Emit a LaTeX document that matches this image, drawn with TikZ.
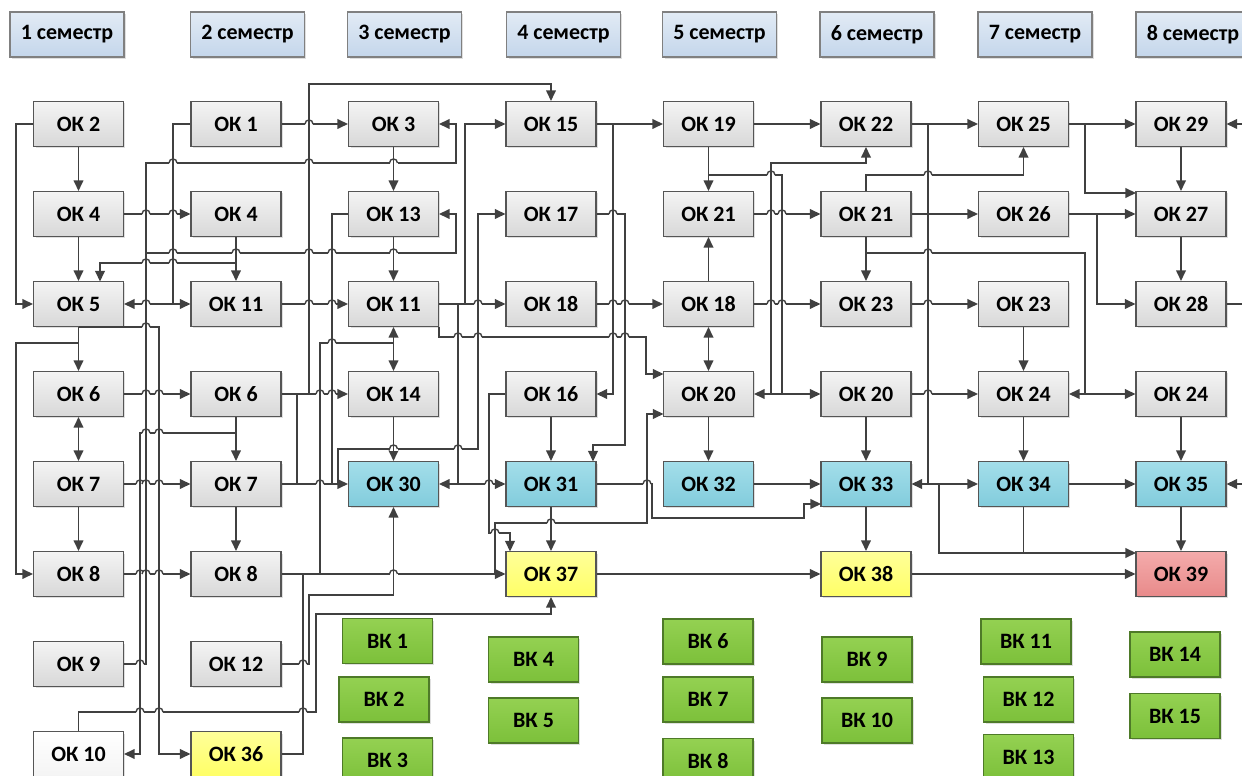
\documentclass[tikz,border=0pt]{standalone}
\usepackage{fontspec}
\setmainfont{Carlito}
\usetikzlibrary{arrows.meta,shadows}

\definecolor{lc}{HTML}{404040}
\definecolor{bc}{HTML}{555555}
\definecolor{gtop}{HTML}{F4F4F4}
\definecolor{gbot}{HTML}{D8D8D8}
\definecolor{ctop}{HTML}{A3DEEA}
\definecolor{cbot}{HTML}{82CCDC}
\definecolor{ytop}{HTML}{FFFF99}
\definecolor{ybot}{HTML}{FFFF66}
\definecolor{rtop}{HTML}{F4ABAB}
\definecolor{rbot}{HTML}{E88A8A}
\definecolor{etop}{HTML}{94D152}
\definecolor{ebot}{HTML}{7CC03A}
\definecolor{eb}{HTML}{4E7A28}
\definecolor{htop}{HTML}{E2EBF5}
\definecolor{hbot}{HTML}{C4D6EB}

\tikzset{
  line/.style={draw=lc, line width=0.8pt},
  arr/.style={line, -{Triangle[length=6pt,width=5.5pt]}},
  darr/.style={line, {Triangle[length=6pt,width=5.5pt]}-{Triangle[length=6pt,width=5.5pt]}},
  box/.style={draw=bc, line width=0.6pt, minimum width=1.8cm, minimum height=0.9cm, inner sep=0pt,
    font=\fontsize{12.5}{14}\selectfont\bfseries,
    drop shadow={shadow xshift=0.04cm, shadow yshift=-0.04cm, opacity=0.25}},
  okbox/.style={box, top color=gtop, bottom color=gbot},
  wbox/.style={box, top color=white, bottom color=gtop},
  cbox/.style={box, top color=ctop, bottom color=cbot},
  ybox/.style={box, top color=ytop, bottom color=ybot},
  rbox/.style={box, top color=rtop, bottom color=rbot},
  vkbox/.style={box, draw=eb, top color=etop, bottom color=ebot},
  hbox/.style={box, minimum width=2.28cm, draw=gray, top color=htop, bottom color=hbot}
}

% line hop over a vertical connector
\newcommand{\linehop}[2]{%
  \fill[white] ({#1-4},{#2-2}) rectangle ({#1+4},{#2+2});
  \draw[line] ({#1},{#2-3}) -- ({#1},{#2+3});
  \draw[line] ({#1-4},#2) .. controls ({#1-4},{#2-5.3}) and ({#1+4},{#2-5.3}) .. ({#1+4},#2);}

\begin{document}
\begin{tikzpicture}[x=0.02cm, y=-0.02cm]
\useasboundingbox (0,0) rectangle (1242,776);

% semesters
\foreach \i/\x in {1/67, 2/247.5, 3/404.5, 4/563.5, 5/719.5, 6/877, 7/1035, 8/1193}
  \node[hbox] (sem\i) at (\x,34.5) {\i{} семестр};

% semester 1
\node[okbox] (ok2) at (78.5,124) {ОК 2};
\node[okbox] (ok4) at (78.5,214) {ОК 4};
\node[okbox] (ok5) at (78.5,304) {ОК 5};
\node[okbox] (ok6) at (78.5,394) {ОК 6};
\node[okbox] (ok7) at (78.5,484) {ОК 7};
\node[okbox] (ok8) at (78.5,574) {ОК 8};
\node[okbox] (ok9) at (78.5,664) {ОК 9};
\node[wbox] (ok10) at (78.5,754) {ОК 10};
% semester 2
\node[okbox] (ok1) at (236,124) {ОК 1};
\node[okbox] (ok4s2) at (236,214) {ОК 4};
\node[okbox] (ok11s2) at (236,304) {ОК 11};
\node[okbox] (ok6s2) at (236,394) {ОК 6};
\node[okbox] (ok7s2) at (236,484) {ОК 7};
\node[okbox] (ok8s2) at (236,574) {ОК 8};
\node[okbox] (ok12) at (236,664) {ОК 12};
\node[ybox] (ok36) at (236,754) {ОК 36};
% semester 3
\node[okbox] (ok3) at (393.5,124) {ОК 3};
\node[okbox] (ok13) at (393.5,214) {ОК 13};
\node[okbox] (ok11) at (393.5,304) {ОК 11};
\node[okbox] (ok14) at (393.5,394) {ОК 14};
\node[cbox] (ok30) at (393.5,484) {ОК 30};
% semester 4
\node[okbox] (ok15) at (551,124) {ОК 15};
\node[okbox] (ok17) at (551,214) {ОК 17};
\node[okbox] (ok18) at (551,304) {ОК 18};
\node[okbox] (ok16) at (551,394) {ОК 16};
\node[cbox] (ok31) at (551,484) {ОК 31};
\node[ybox] (ok37) at (551,574) {ОК 37};
% semester 5
\node[okbox] (ok19) at (708.5,124) {ОК 19};
\node[okbox] (ok21) at (708.5,214) {ОК 21};
\node[okbox] (ok18s5) at (708.5,304) {ОК 18};
\node[okbox] (ok20) at (708.5,394) {ОК 20};
\node[cbox] (ok32) at (708.5,484) {ОК 32};
% semester 6
\node[okbox] (ok22) at (866,124) {ОК 22};
\node[okbox] (ok21s6) at (866,214) {ОК 21};
\node[okbox] (ok23) at (866,304) {ОК 23};
\node[okbox] (ok20s6) at (866,394) {ОК 20};
\node[cbox] (ok33) at (866,484) {ОК 33};
\node[ybox] (ok38) at (866,574) {ОК 38};
% semester 7
\node[okbox] (ok25) at (1023.5,124) {ОК 25};
\node[okbox] (ok26) at (1023.5,214) {ОК 26};
\node[okbox] (ok23s7) at (1023.5,304) {ОК 23};
\node[okbox] (ok24) at (1023.5,394) {ОК 24};
\node[cbox] (ok34) at (1023.5,484) {ОК 34};
% semester 8
\node[okbox] (ok29) at (1181,124) {ОК 29};
\node[okbox] (ok27) at (1181,214) {ОК 27};
\node[okbox] (ok28) at (1181,304) {ОК 28};
\node[okbox] (ok24s8) at (1181,394) {ОК 24};
\node[cbox] (ok35) at (1181,484) {ОК 35};
\node[rbox] (ok39) at (1181,574) {ОК 39};

% elective courses
\node[vkbox] (vk1) at (387.5,641) {ВК 1};
\node[vkbox] (vk2) at (384,699.5) {ВК 2};
\node[vkbox] (vk3) at (387.5,760.5) {ВК 3};
\node[vkbox] (vk4) at (533.5,659.5) {ВК 4};
\node[vkbox] (vk5) at (533.5,720.5) {ВК 5};
\node[vkbox] (vk6) at (708,641.5) {ВК 6};
\node[vkbox] (vk7) at (708,699.5) {ВК 7};
\node[vkbox] (vk8) at (708,761) {ВК 8};
\node[vkbox] (vk9) at (867,659.5) {ВК 9};
\node[vkbox] (vk10) at (867,720.5) {ВК 10};
\node[vkbox] (vk11) at (1026,641.5) {ВК 11};
\node[vkbox] (vk12) at (1028.5,699.5) {ВК 12};
\node[vkbox] (vk13) at (1028.5,757) {ВК 13};
\node[vkbox] (vk14) at (1175,654.5) {ВК 14};
\node[vkbox] (vk15) at (1175,716) {ВК 15};

% links from semester 1
\draw[arr] (ok2.west) -- (16,124) |- (ok5.west);
\draw[arr] (ok2) -- (ok4);
\draw[arr] (ok4) -- (ok5);
\draw[arr] (ok4) -- (ok4s2);
\draw[arr] (ok5) -- (ok6);
\draw[arr] (78.5,343) -- (16,343) |- (ok8.west);
\draw[arr] (ok5.south) -| (159,754) -- (ok36.west);
\draw[darr] (ok6) -- (ok7);
\draw[arr] (ok7) -- (ok8);
\draw[arr] (ok6) -- (ok6s2);
\draw[arr] (ok7) -- (ok7s2);
\draw[arr] (ok8) -- (ok8s2);
\draw[arr] (ok9.east) -- (146,664) -- (146,163) -- (456,163) |- (ok3.east);
\draw[arr] (146,253) -- (456,253) |- (ok13.east);
\draw[arr] (ok10.north) |- (316,712) -- (316,614) -| (ok37.south);

% links from semester 2
\draw[arr] (ok1.west) -- (173,124) |- (ok11s2.west);
\draw[arr] (173,304) -- (ok5.east);
\draw[arr] (ok1) -- (ok3);
\draw[arr] (ok4s2) -- (ok11s2);
\draw[arr] (236,263) -| (100,281.5);
\draw[arr] (ok11s2) -- (ok11);
\draw[arr] (ok6s2) -- (ok7s2);
\draw[arr] (236,433) -- (140,433) |- (ok10.east);
\draw[arr] (ok7s2) -- (ok8s2);
\draw[arr] (ok6s2) -- (ok14);
\draw[arr] (309,394) -- (309,84) -| (ok15.north);
\draw[line] (297,394) -- (297,484);
\draw[arr] (ok7s2) -- (ok30);
\draw[arr] (ok8s2) -- (ok37);
\draw[line] (ok36.east) -| (303,574);
\draw[arr] (ok12.east) -- (309,664) -- (309,595) -| (ok30.south);
\draw[line] (320,574) |- (393.5,343);

% links from semester 3
\draw[arr] (ok3) -- (ok13);
\draw[arr] (ok13) -- (ok11);
\draw[darr] (ok11) -- (ok14);
\draw[arr] (ok14) -- (ok30);
\draw[line] (ok13.west) -| (332,484);
\draw[arr] (338,484) |- (478,449) |- (ok17.west);
\draw[arr] (ok11.east) -- (465,304) |- (ok15.west);
\draw[arr] (ok11) -- (ok18);
\draw[line] (458,304) -- (458,484);
\draw[darr] (ok30) -- (ok31);
\draw[arr] (ok11.south east) |- (646,337) |- (663.5,374);

% links from semester 4
\draw[arr] (ok15) -- (ok19);
\draw[arr] (613,124) |- (ok16.east);
\draw[arr] (ok17.east) -| (625,445) -| (593,461.5);
\draw[arr] (ok18) -- (ok18s5);
\draw[arr] (ok16) -- (ok31);
\draw[arr] (ok31) -- (ok37);
\draw[arr] (ok16.west) -| (489,533) -| (510,551.5);
\draw[arr] (495,574) |- (647,523) |- (663.5,414);
\draw[arr] (ok31.east) -| (652,518) -- (804,518) |- (821,504);
\draw[arr] (ok37) -- (ok38);

% links from semester 5
\draw[arr] (ok19) -- (ok22);
\draw[arr] (ok19) -- (ok21);
\draw[line] (708.5,175) -| (782,394);
\draw[arr] (771,394) |- (866,163) -- (ok22.south);
\draw[arr] (ok18s5) -- (ok21);
\draw[darr] (ok18s5) -- (ok20);
\draw[arr] (ok20) -- (ok32);
\draw[darr] (ok20) -- (ok20s6);
\draw[arr] (ok21) -- (ok21s6);
\draw[arr] (ok18s5) -- (ok23);
\draw[arr] (ok32) -- (ok33);

% links from semester 6
\draw[arr] (ok22) -- (ok25);
\draw[arr] (ok21s6.north) |- (1023.5,175) -- (ok25.south);
\draw[arr] (ok21s6) -- (ok23);
\draw[line] (866,253) -| (1085,394);
\draw[arr] (ok21s6) -- (ok26);
\draw[arr] (ok23) -- (ok23s7);
\draw[arr] (ok20s6) -- (ok33);
\draw[arr] (ok20s6) -- (ok24);
\draw[arr] (ok33) -- (ok38);
\draw[darr] (ok33) -- (ok34);
\draw[line] (928,124) -- (928,484);
\draw[arr] (939,484) |- (1136,553);
\draw[arr] (ok38) -- (ok39);

% links from semester 7
\draw[arr] (ok23s7) -- (ok24);
\draw[darr] (ok24) -- (ok24s8);
\draw[arr] (ok24) -- (ok34);
\draw[line] (ok34.south) -- (1023.5,553);
\draw[arr] (ok34) -- (ok35);
\draw[arr] (ok25) -- (ok29);
\draw[arr] (1085,124) |- (1136,193);
\draw[arr] (ok26) -- (ok27);
\draw[arr] (1097,214) |- (ok28.west);

% links from semester 8
\draw[arr] (ok29) -- (ok27);
\draw[arr] (ok27) -- (ok28);
\draw[arr] (ok24s8) -- (ok35);
\draw[arr] (ok35) -- (ok39);
\draw[arr] (1242,124) -- (ok29.east);
\draw[line] (ok28.east) -- (1242,304);
\draw[arr] (1242,484) -- (ok35.east);

% hops where lines cross
\foreach \hx/\hy in {146/214, 173/214, 146/304, 146/394, 159/394, 140/484, 146/484, 159/484,
    140/574, 146/574, 159/574, 146/433, 159/433, 173/163, 309/163, 393.5/163,
    173/253, 236/253, 309/253, 332/253, 393.5/253, 146/263, 173/263, 146/327,
    140/664, 140/712, 159/712, 303/712, 309/124, 309/304, 332/304, 332/343,
    320/394, 332/394, 393.5/449, 458/449, 320/484, 393.5/574, 303/664, 478/304,
    458/337, 478/337, 613/337, 625/337, 489/484, 551/523, 495/533, 613/214,
    613/304, 625/304, 647/484, 771/175, 771/214, 782/214, 771/304, 782/304,
    928/175, 928/253, 928/304, 928/394}
  \linehop{\hx}{\hy};
\end{tikzpicture}
\end{document}
